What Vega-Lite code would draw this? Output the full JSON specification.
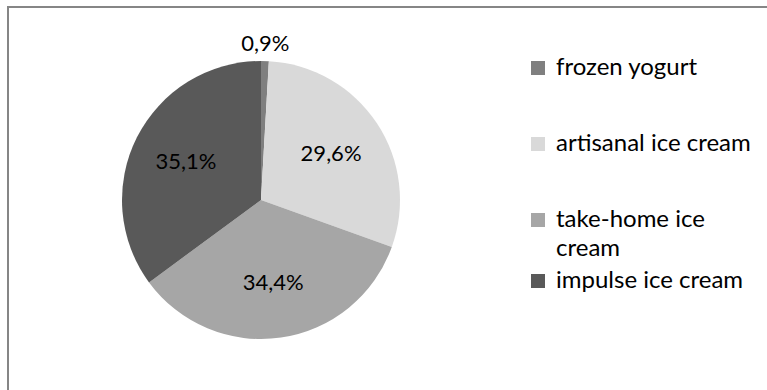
{
  "$schema": "https://vega.github.io/schema/vega-lite/v6.json",
  "width": 770,
  "height": 390,
  "autosize": "none",
  "padding": {"left": 8, "top": 7, "right": 0, "bottom": 0},
  "background": "white",
  "config": {
    "view": {"stroke": null},
    "font": "Lato",
    "style": {"guide-label": {"lineHeight": 29}},
    "locale": {"number": {"decimal": ",", "thousands": ".", "grouping": [3], "currency": ["", " €"]}},
    "legend": {
      "title": null,
      "orient": "none",
      "padding": 0,
      "symbolType": "square",
      "symbolSize": 196,
      "symbolStrokeWidth": 0,
      "symbolOpacity": 1,
      "labelFontSize": 24,
      "labelFont": "Lato",
      "labelColor": "#000000",
      "labelOffset": 6,
      "labelLimit": 300,
      "rowPadding": 52
    }
  },
  "data": {
    "values": [
      {"category": "frozen yogurt", "share": 0.009, "rank": 1},
      {"category": "artisanal ice cream", "share": 0.296, "rank": 2},
      {"category": "take-home ice cream", "share": 0.344, "rank": 3},
      {"category": "impulse ice cream", "share": 0.351, "rank": 4}
    ]
  },
  "resolve": {"legend": {"color": "independent"}},
  "layer": [
    {
      "data": {"values": [{"frame": 1}]},
      "mark": {"type": "rect", "fill": null, "stroke": "#868686", "strokeWidth": 2},
      "encoding": {}
    },
    {
      "mark": {"type": "arc", "outerRadius": 139, "x": 253, "y": 193, "opacity": 0},
      "encoding": {
        "theta": {"field": "share", "type": "quantitative", "stack": true},
        "order": {"field": "rank", "type": "quantitative"},
        "color": {
          "field": "category",
          "type": "nominal",
          "legend": {
            "legendX": 518,
            "legendY": 262,
            "values": ["impulse ice cream"]
          }
        }
      }
    },
    {
      "mark": {"type": "arc", "outerRadius": 139, "x": 253, "y": 193},
      "encoding": {
        "theta": {"field": "share", "type": "quantitative", "stack": true},
        "order": {"field": "rank", "type": "quantitative"},
        "color": {
          "field": "category",
          "type": "nominal",
          "sort": ["frozen yogurt", "artisanal ice cream", "take-home ice cream", "impulse ice cream"],
          "scale": {
            "domain": ["frozen yogurt", "artisanal ice cream", "take-home ice cream", "impulse ice cream"],
            "range": ["#7f7f7f", "#d9d9d9", "#a6a6a6", "#595959"]
          },
          "legend": {
            "legendX": 518,
            "legendY": 49,
            "values": ["frozen yogurt", "artisanal ice cream", "take-home ice cream"],
            "labelExpr": "datum.label == 'take-home ice cream' ? ['take-home ice', 'cream'] : datum.label"
          }
        }
      }
    },
    {
      "mark": {"type": "text", "radius": 84, "x": 253, "y": 193, "fontSize": 22, "color": "#000000"},
      "encoding": {
        "theta": {"field": "share", "type": "quantitative", "stack": true},
        "order": {"field": "rank", "type": "quantitative"},
        "text": {"condition": {"test": "datum.share >= 0.05", "field": "share", "format": ".1%"}, "value": ""}
      }
    },
    {
      "mark": {"type": "text", "radius": 156, "x": 253, "y": 193, "fontSize": 22, "color": "#000000"},
      "encoding": {
        "theta": {"field": "share", "type": "quantitative", "stack": true},
        "order": {"field": "rank", "type": "quantitative"},
        "text": {"condition": {"test": "datum.share < 0.05", "field": "share", "format": ".1%"}, "value": ""}
      }
    }
  ]
}
